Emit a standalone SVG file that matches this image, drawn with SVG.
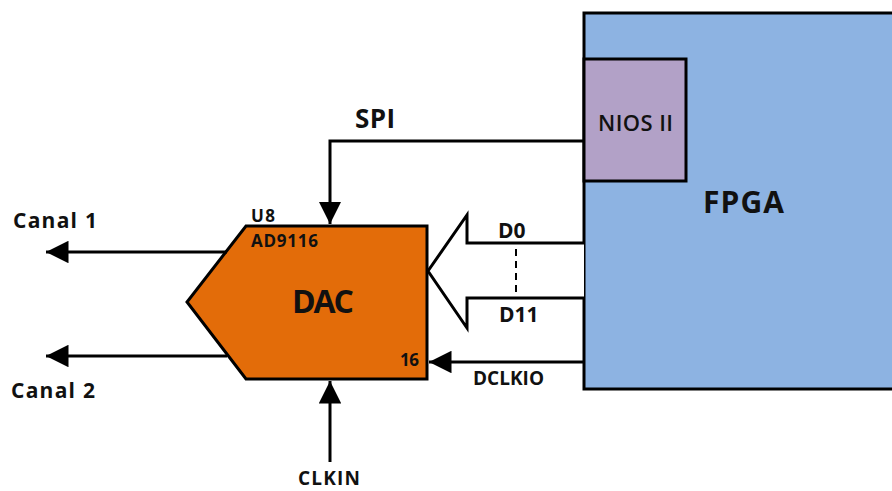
<svg xmlns="http://www.w3.org/2000/svg" width="892" height="491" viewBox="0 0 892 491">
<defs>
<style>
text{font-family:"Open Sans","Liberation Sans",sans-serif;font-weight:bold;fill:#111}
.ln{stroke:#000;stroke-width:3;fill:none}
</style>
<marker id="ah" viewBox="0 0 10 10" refX="10" refY="5" markerWidth="7.5" markerHeight="7.5" markerUnits="strokeWidth" orient="auto">
<path d="M0,0 L10,5 L0,10 Z" fill="#000"/>
</marker>
</defs>
<rect width="892" height="491" fill="#fff"/>
<g id="fpga">
<rect x="584" y="13" width="330" height="376" fill="#8db3e2" stroke="#000" stroke-width="3"/>
<text x="703" y="213" font-size="30" textLength="81">FPGA</text>
</g>
<g id="nios">
<rect x="584" y="59" width="102" height="122" fill="#b2a1c7" stroke="#000" stroke-width="3"/>
<text x="598" y="131" font-size="22" textLength="75" style="font-weight:600">NIOS II</text>
</g>
<g id="dac">
<polygon points="246,226 427,226 427,379 246,379 187,302" fill="#e36c09" stroke="#000" stroke-width="3"/>
<text x="251" y="222" font-size="17" textLength="24">U8</text>
<text x="251" y="247" font-size="17" textLength="67">AD9116</text>
<text x="292" y="313" font-size="32" textLength="62">DAC</text>
<text x="400" y="366" font-size="17" textLength="19">16</text>
</g>
<g id="connectors">
<polyline class="ln" points="584,141 330,141 330,224" marker-end="url(#ah)"/>
<line class="ln" x1="227" y1="252" x2="46" y2="252" marker-end="url(#ah)"/>
<line class="ln" x1="227" y1="356" x2="46" y2="356" marker-end="url(#ah)"/>
<line class="ln" x1="584" y1="362" x2="429" y2="362" marker-end="url(#ah)"/>
<line class="ln" x1="330" y1="462" x2="330" y2="381" marker-end="url(#ah)"/>
<polyline points="584,243 467,243 467,215 428,271 467,328 467,298 584,298" fill="#fff" stroke="#000" stroke-width="3"/>
<line x1="516" y1="249" x2="516" y2="298" stroke="#000" stroke-width="2" stroke-dasharray="7,5"/>
</g>
<g id="labels">
<text x="355" y="128" font-size="26" textLength="40">SPI</text>
<text x="13" y="228" font-size="21" textLength="84">Canal 1</text>
<text x="11" y="398" font-size="21" textLength="84">Canal 2</text>
<text x="498" y="238" font-size="21">D0</text>
<text x="499" y="322" font-size="21">D11</text>
<text x="473" y="385" font-size="19" textLength="71">DCLKIO</text>
<text x="298" y="485" font-size="19" textLength="62">CLKIN</text>
</g>
</svg>
